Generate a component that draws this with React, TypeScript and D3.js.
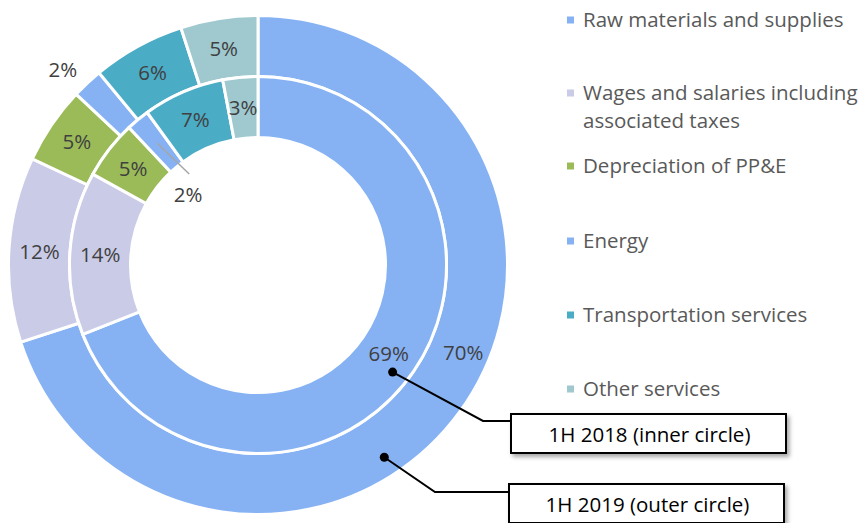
import React from "react";
import * as d3 from "d3";

const categories = [
  "Raw materials and supplies",
  "Wages and salaries including associated taxes",
  "Depreciation of PP&E",
  "Energy",
  "Transportation services",
  "Other services",
];
const legendLines = [
  ["Raw materials and supplies"],
  ["Wages and salaries including", "associated taxes"],
  ["Depreciation of PP&E"],
  ["Energy"],
  ["Transportation services"],
  ["Other services"],
];
const outer2019 = [70, 12, 5, 2, 6, 5];
const inner2018 = [69, 14, 5, 2, 7, 3];
const colors = ["#86B2F4", "#CACBE7", "#9BBB59", "#86B2F4", "#4BACC6", "#9FC8CF"];
const seriesNames = ["1H 2018 (inner circle)", "1H 2019 (outer circle)"];

const W = 866;
const H = 523;
const cx = 258;
const cy = 265;
const rInner = [127.5, 188.5];
const rOuter = [188.5, 249.5];

const FONT = "'Open Sans', 'Noto Sans', sans-serif";

function polar(angleDeg: number, r: number): [number, number] {
  const a = (angleDeg * Math.PI) / 180;
  return [cx + r * Math.sin(a), cy - r * Math.cos(a)];
}

export default function App() {
  const pie = d3
    .pie<number>()
    .sort(null)
    .value((d) => d)
    .startAngle(0)
    .endAngle(2 * Math.PI);

  const outerArcs = pie(outer2019);
  const innerArcs = pie(inner2018);
  const arcOuter = d3.arc<d3.PieArcDatum<number>>().innerRadius(rOuter[0]).outerRadius(rOuter[1]);
  const arcInner = d3.arc<d3.PieArcDatum<number>>().innerRadius(rInner[0]).outerRadius(rInner[1]);

  const fmt = (v: number) => `${v}%`;

  const outerLabelPos = outerArcs.map((a, i) => {
    if (i === 0) return polar(113, 223);
    if (i === 3) return polar(315, 276);
    const c = arcOuter.centroid(a);
    return [c[0] + cx, c[1] + cy] as [number, number];
  });
  const innerLabelPos = innerArcs.map((a, i) => {
    if (i === 3) return polar(315, 99);
    const c = arcInner.centroid(a);
    return [c[0] + cx, c[1] + cy] as [number, number];
  });
  const innerEnergyMid = ((innerArcs[3].startAngle + innerArcs[3].endAngle) / 2) * (180 / Math.PI);
  const leadA = polar(innerEnergyMid, 158);
  const leadB = polar(innerEnergyMid + 2.5, 114);

  const legendY = [20, 93, 166, 241, 315, 389];

  const dot1 = polar(128.5, 172);
  const dot2 = polar(146.7, 230);
  const box1 = { x: 511, y: 414, w: 275, h: 39 };
  const box2 = { x: 509, y: 484, w: 275, h: 39 };

  return (
    <svg
      width={W}
      height={H}
      style={{ position: "absolute", left: 0, top: 0, background: "#fff" }}
      fontFamily={FONT}
    >
      <defs>
        <filter id="shadow" x="-10%" y="-30%" width="130%" height="180%">
          <feDropShadow dx="2.5" dy="3" stdDeviation="2" floodColor="#000" floodOpacity="0.35" />
        </filter>
      </defs>
      <g transform={`translate(${cx},${cy})`}>
        {outerArcs.map((a, i) => (
          <path key={"o" + i} d={arcOuter(a) || ""} fill={colors[i]} stroke="#fff" strokeWidth={3} />
        ))}
        {innerArcs.map((a, i) => (
          <path key={"i" + i} d={arcInner(a) || ""} fill={colors[i]} stroke="#fff" strokeWidth={3} />
        ))}
      </g>
      <g fontSize={20.5} fill="#404040" textAnchor="middle">
        {outerLabelPos.map((p, i) => (
          <text key={"ol" + i} x={p[0]} y={p[1]} dy="0.36em">
            {fmt(outer2019[i])}
          </text>
        ))}
        {innerLabelPos.map((p, i) => (
          <text key={"il" + i} x={p[0]} y={p[1]} dy="0.36em">
            {fmt(inner2018[i])}
          </text>
        ))}
      </g>
      <line x1={leadA[0]} y1={leadA[1]} x2={leadB[0]} y2={leadB[1]} stroke="#A6A6A6" strokeWidth={1.5} />

      <g fontSize={20.5} fill="#595959">
        {categories.map((c, i) => (
          <g key={"lg" + i}>
            <rect x={567} y={legendY[i] - 3.5} width={7} height={7} fill={colors[i]} />
            {legendLines[i].map((ln, j) => (
              <text key={j} x={583} y={legendY[i] + j * 28} dy="0.36em">
                {ln}
              </text>
            ))}
          </g>
        ))}
      </g>

      <polyline
        points={`${dot1[0]},${dot1[1]} 483,421 ${box1.x},421`}
        fill="none"
        stroke="#000"
        strokeWidth={2}
      />
      <circle cx={dot1[0]} cy={dot1[1]} r={4.5} fill="#000" />
      <polyline
        points={`${dot2[0]},${dot2[1]} 435,492 ${box2.x},492`}
        fill="none"
        stroke="#000"
        strokeWidth={2}
      />
      <circle cx={dot2[0]} cy={dot2[1]} r={4.5} fill="#000" />
      {[box1, box2].map((b, i) => (
        <g key={"bx" + i}>
          <rect x={b.x} y={b.y} width={b.w} height={b.h} fill="#fff" stroke="#000" strokeWidth={2} filter="url(#shadow)" />
          <text x={b.x + b.w / 2 + 1} y={b.y + b.h / 2 + 1} dy="0.36em" textAnchor="middle" fontSize={20.5} fill="#000">
            {seriesNames[i]}
          </text>
        </g>
      ))}
    </svg>
  );
}
